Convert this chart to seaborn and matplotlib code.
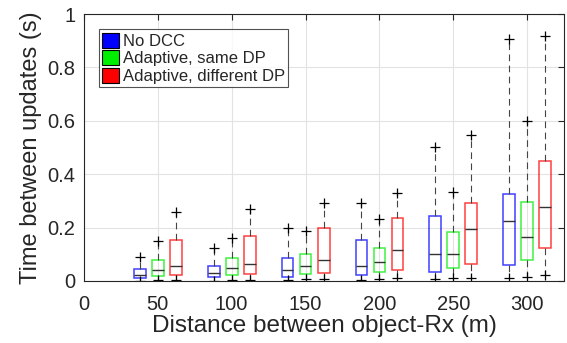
import numpy as np
import pandas as pd
import seaborn as sns
import matplotlib
matplotlib.use("Agg")
import matplotlib.pyplot as plt
from matplotlib.patches import Patch

# ---- data ----
distances = [50, 100, 150, 200, 250, 300]
series = ["No DCC", "Adaptive, same DP", "Adaptive, different DP"]
colors = ["#0000ff", "#00ee00", "#ff0000"]

# per series: lower extreme (+), Q1, median, Q3, upper extreme (+)
nodcc_lo  = [0.000, 0.000, 0.004, 0.004, 0.006, 0.010]
nodcc_q1  = [0.011, 0.014, 0.016, 0.021, 0.033, 0.059]
nodcc_med = [0.024, 0.031, 0.041, 0.056, 0.100, 0.226]
nodcc_q3  = [0.045, 0.057, 0.086, 0.152, 0.242, 0.325]
nodcc_hi  = [0.091, 0.125, 0.200, 0.293, 0.501, 0.905]

same_lo  = [0.004, 0.004, 0.006, 0.009, 0.012, 0.016]
same_q1  = [0.019, 0.021, 0.025, 0.032, 0.050, 0.079]
same_med = [0.041, 0.048, 0.055, 0.072, 0.100, 0.164]
same_q3  = [0.079, 0.085, 0.100, 0.125, 0.182, 0.297]
same_hi  = [0.150, 0.160, 0.187, 0.233, 0.333, 0.600]

diff_lo  = [0.004, 0.004, 0.008, 0.012, 0.012, 0.021]
diff_q1  = [0.024, 0.025, 0.031, 0.040, 0.062, 0.122]
diff_med = [0.057, 0.064, 0.079, 0.114, 0.194, 0.276]
diff_q3  = [0.152, 0.169, 0.199, 0.235, 0.291, 0.448]
diff_hi  = [0.258, 0.268, 0.293, 0.331, 0.546, 0.919]

stats_by_series = [
    (nodcc_lo, nodcc_q1, nodcc_med, nodcc_q3, nodcc_hi),
    (same_lo, same_q1, same_med, same_q3, same_hi),
    (diff_lo, diff_q1, diff_med, diff_q3, diff_hi),
]

x_ticks = [0, 50, 100, 150, 200, 250, 300]
y_ticks = [0, 0.2, 0.4, 0.6, 0.8, 1]
y_tick_labels = ["0", "0.2", "0.4", "0.6", "0.8", "1"]

# ---- style ----
sns.set_theme(style="whitegrid")
plt.rcParams["font.family"] = ["Liberation Sans", "DejaVu Sans"]

fig = plt.figure(figsize=(5.67, 3.43), dpi=100)
ax = fig.add_axes([0.148, 0.181, 0.847, 0.778])

offsets = [-12.2, 0.0, 12.2]
width = 8.0
for (lo, q1, med, q3, hi), color, off in zip(stats_by_series, colors, offsets):
    bstats = []
    for i in range(len(distances)):
        bstats.append(dict(med=med[i], q1=q1[i], q3=q3[i],
                           whislo=lo[i], whishi=hi[i],
                           fliers=[lo[i], hi[i]]))
    pos = [d + off for d in distances]
    ax.bxp(bstats, positions=pos, widths=width, showcaps=False,
           patch_artist=True, manage_ticks=False,
           boxprops=dict(facecolor="none", edgecolor=color, linewidth=1.1, alpha=0.75),
           medianprops=dict(color="#333333", linewidth=1.0),
           whiskerprops=dict(color="#444444", linestyle=(0, (6, 4)), linewidth=0.8),
           flierprops=dict(marker="+", markeredgecolor="black", markersize=6.5,
                           markeredgewidth=0.9))

ax.set_xlim(0, 325)
ax.set_ylim(0, 1)
ax.set_xticks(x_ticks)
ax.set_yticks(y_ticks)
ax.set_xticklabels([str(t) for t in x_ticks])
ax.set_yticklabels(y_tick_labels)
ax.grid(True, color="#e3e3e3", linewidth=0.8)
ax.set_axisbelow(True)
for s in ax.spines.values():
    s.set_color("#262626")
    s.set_linewidth(0.8)
ax.tick_params(axis="both", direction="in", length=4, width=0.8,
               colors="#262626", labelsize=14.5, top=True, right=True,
               labelcolor="#262626")
ax.tick_params(axis="x", pad=10)
ax.tick_params(axis="y", pad=6)
ax.set_xlabel("Distance between object-Rx (m)", fontsize=17.5, color="#262626", labelpad=1)
ax.set_ylabel("Time between updates (s)", fontsize=17, color="#262626", labelpad=4)

handles = [Patch(facecolor=c, edgecolor="black", linewidth=0.8) for c in colors]
leg = ax.legend(handles, series, loc="upper left", bbox_to_anchor=(0.031, 0.943),
                fontsize=12, frameon=True, fancybox=False, handlelength=1.0,
                handleheight=1.0, handletextpad=0.25, borderpad=0.2,
                labelspacing=0.08, borderaxespad=0)
leg.get_frame().set_edgecolor("#262626")
leg.get_frame().set_linewidth(0.8)

fig.savefig("out.png", dpi=100)
